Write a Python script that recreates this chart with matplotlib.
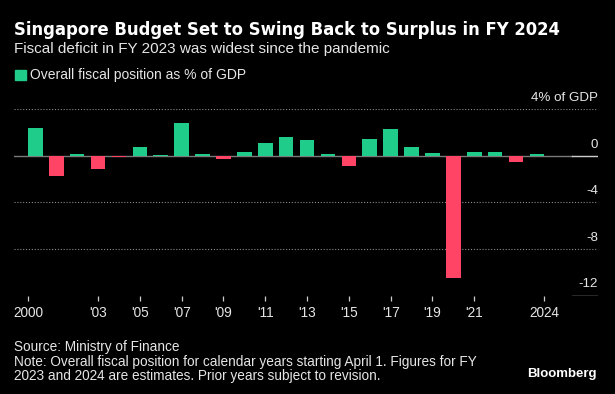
import matplotlib
matplotlib.use("Agg")
import matplotlib.pyplot as plt
from matplotlib.patches import Rectangle

# ---- data ----
years = list(range(2000, 2025))
values = [2.43, -1.69, 0.14, -1.09, -0.09, 0.74, 0.09, 2.83, 0.17, -0.29,
          0.34, 1.14, 1.63, 1.34, 0.14, -0.86, 1.43, 2.31, 0.74, 0.26,
          -10.44, 0.34, 0.34, -0.49, 0.14]
tick_years = [2000, 2003, 2005, 2007, 2009, 2011, 2013, 2015, 2017, 2019, 2021, 2024]
tick_labels = ["2000", "'03", "'05", "'07", "'09", "'11", "'13", "'15", "'17", "'19", "'21", "2024"]
ytick_vals = [4, 0, -4, -8, -12]
ytick_labels = ["4% of GDP", "0", "-4", "-8", "-12"]

title = "Singapore Budget Set to Swing Back to Surplus in FY 2024"
subtitle = "Fiscal deficit in FY 2023 was widest since the pandemic"
legend_label = "Overall fiscal position as % of GDP"
source = "Source: Ministry of Finance"
note1 = "Note: Overall fiscal position for calendar years starting April 1. Figures for FY"
note2 = "2023 and 2024 are estimates. Prior years subject to revision."

GREEN = "#1fcc8a"
RED = "#ff4466"
BG = "#000000"
SANS = ["Liberation Sans", "DejaVu Sans"]

W, H = 615, 394
fig = plt.figure(figsize=(W / 100, H / 100), dpi=100, facecolor=BG)


def fx(x):
    return x / W


def fy(y):
    return 1 - y / H


# axes: left 14px, right 598px, top (4) 109.3px, bottom (-12) 295.7px
ax = fig.add_axes([fx(14), fy(295.7), (598 - 14) / W, (295.7 - 109.3) / H])
ax.set_facecolor(BG)
ax.set_xlim(1998.98, 2026.92)
ax.set_ylim(-12, 4)
for s in ax.spines.values():
    s.set_visible(False)

colors = [GREEN if v >= 0 else RED for v in values]
ax.bar(years, values, width=0.7, color=colors, zorder=3)

# gridlines
for g in [4, -4, -8]:
    ax.axhline(g, color="#8a8a8a", lw=0.8, ls=(0, (1, 1.6)), zorder=1)
xm = (572 - 14) / (598 - 14)
ax.axhline(0, xmin=0, xmax=xm, color="#7a7a7a", lw=1.0, zorder=2)
ax.axhline(0, xmin=xm, xmax=1, color="#cfcfcf", lw=1.0, zorder=2)
ax.axhline(-12, xmin=xm, xmax=1, color="#cfcfcf", lw=1.0, zorder=2)

# y labels (right, above gridlines)
ax.set_yticks([])
for v, lab in zip(ytick_vals, ytick_labels):
    ax.annotate(lab, xy=(1, v), xycoords=("axes fraction", "data"),
                xytext=(0, 6), textcoords="offset points",
                ha="right", va="baseline", color="#e6e6e6",
                fontsize=9.6, family=SANS, annotation_clip=False)

# x ticks
offsets = {2000: -0.33, 2024: 0.35}
tick_pos = [t + offsets.get(t, 0) for t in tick_years]
ax.set_xticks(tick_pos)
ax.set_xticklabels(tick_labels, family=SANS, fontsize=9.8, color="#e6e6e6")
ax.tick_params(axis="x", length=3.5, width=0.9, color="#cccccc", pad=4,
               direction="out")

# titles
fig.text(fx(14), fy(35), title, fontsize=11.9, fontweight="bold",
         color="#ffffff", family="DejaVu Sans", ha="left", va="baseline")
fig.text(fx(14), fy(52.5), subtitle, fontsize=11, color="#e6e6e6",
         family=SANS, ha="left", va="baseline")

# legend
fig.patches.append(Rectangle((fx(15), fy(80)), 10.5 / W, 10.5 / H,
                             transform=fig.transFigure, color=GREEN))
fig.text(fx(30), fy(79.5), legend_label, fontsize=10, color="#e6e6e6",
         family=SANS, ha="left", va="baseline")

# footer
fig.text(fx(14), fy(351), source, fontsize=9.8, color="#e6e6e6",
         family=SANS, ha="left", va="baseline")
fig.text(fx(14), fy(366), note1, fontsize=9.8, color="#e6e6e6",
         family=SANS, ha="left", va="baseline")
fig.text(fx(14), fy(380), note2, fontsize=9.8, color="#e6e6e6",
         family=SANS, ha="left", va="baseline")
fig.text(fx(597), fy(377), "Bloomberg", fontsize=9.5, fontweight="bold",
         color="#ffffff", family=SANS, ha="right", va="baseline")

fig.savefig("out.png", dpi=100, facecolor=BG)
